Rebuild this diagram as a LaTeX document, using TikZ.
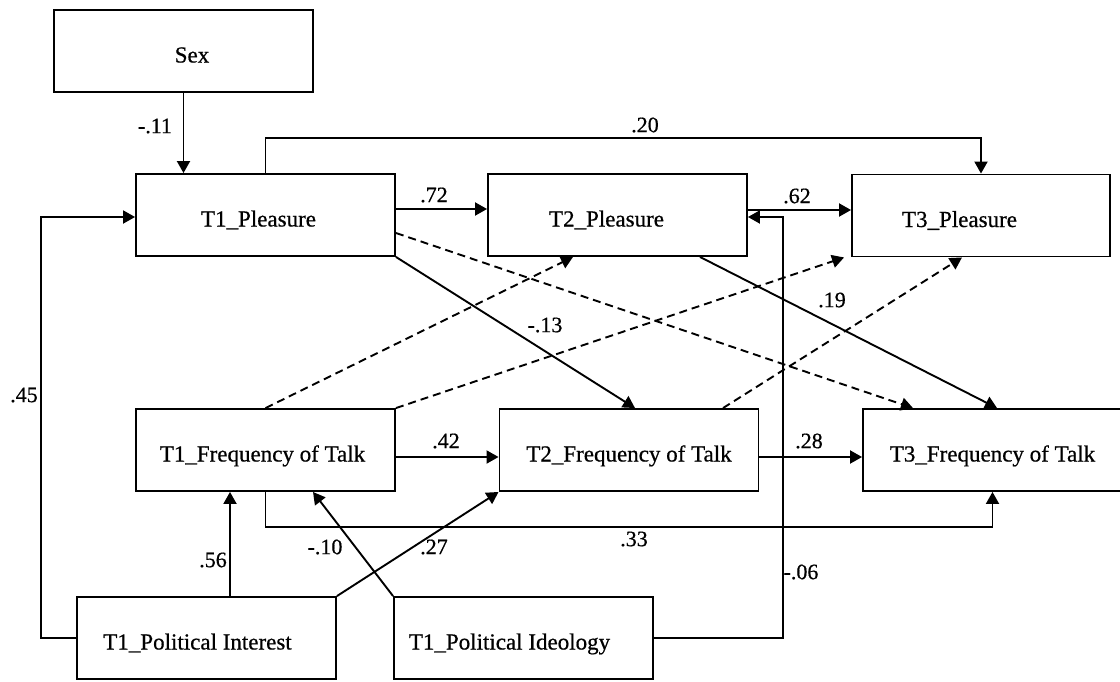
\documentclass[tikz,border=0pt]{standalone}
\usepackage{fontspec}
\setmainfont{Liberation Serif}[FakeBold=0.6]
\usetikzlibrary{arrows.meta}

\tikzset{
  box/.style={draw, line width=1.9pt, minimum width=259pt, minimum height=82pt,
    inner sep=0pt, text height=28pt, text depth=5pt,
    font=\fontsize{23}{27}\selectfont},
  coef/.style={inner sep=0pt, font=\fontsize{22}{26}\selectfont},
  link/.style={line width=1.9pt},
  arr/.style={link, -{Triangle[length=12pt,width=13pt]}},
  dasharr/.style={arr, dash pattern=on 8pt off 5pt}
}

\begin{document}
\begin{tikzpicture}[x=1pt, y=-1pt]
\useasboundingbox[fill=white] (0,0) rectangle (1120,681);

% variables
\node[box] (sex) at (183.5,51)  {\hspace*{17pt}Sex};
\node[box] (t1p) at (265.5,215) {T1\_Pleasure\hspace*{14pt}};
\node[box] (t2p) at (617.5,215) {T2\_Pleasure\hspace*{22pt}};
\node[box, minimum width=258pt] (t3p) at (981,215.5) {T3\_Pleasure\hspace*{43pt}};
\node[box] (t1f) at (265.5,450) {T1\_Frequency of Talk\hspace*{6pt}};
\node[box] (t2f) at (629,450)   {T2\_Frequency of Talk};
\node[box] (t3f) at (992.5,450) {T3\_Frequency of Talk};
\node[box] (pi)  at (206.5,638) {T1\_Political Interest\hspace*{18pt}};
\node[box] (pid) at (523.5,638) {T1\_Political Ideology\hspace*{28pt}};

% solid paths
\draw[arr] (sex.south) -- (sex.south |- t1p.north);
\draw[arr] (t1p.north) -- ([yshift=35pt]t1p.north) -| (t3p.north);
\draw[arr] ([yshift=6pt]t1p.east) -- ([yshift=6pt]t1p.east -| t2p.west);
\draw[arr] ([yshift=5pt]t2p.east) -- ([yshift=5pt]t2p.east -| t3p.west);
\draw[arr] (pi.west) -- ([xshift=-35pt]pi.west) |- ([yshift=-2pt]t1p.west);
\draw[arr] ([xshift=23.5pt]pi.north) -- ([xshift=23.5pt]pi.north |- t1f.south);
\draw[arr] (pi.north east) -- (t2f.south west);
\draw[arr] (pid.north west) -- ([xshift=47.5pt]t1f.south);
\draw[arr] (pid.east) -- ([xshift=129pt]pid.east) |- ([yshift=-2pt]t2p.east);
\draw[arr] ([yshift=-7pt]t1f.east) -- ([yshift=-7pt]t1f.east -| t2f.west);
\draw[arr] ([yshift=-7pt]t2f.east) -- ([yshift=-7pt]t2f.east -| t3f.west);
\draw[arr] (t1f.south) -- ([yshift=-35pt]t1f.south) -| (t3f.south);
\draw[arr] (t1p.south east) -- ([xshift=6pt]t2f.north);
\draw[arr] ([xshift=82.5pt]t2p.south) -- ([xshift=4.5pt]t3f.north);

% dashed paths
\draw[dasharr] ([yshift=-18pt]t1p.east) -- ([xshift=-79.5pt]t3f.north);
\draw[dasharr] (t1f.north) -- ([xshift=-44.5pt]t2p.south);
\draw[dasharr] (t1f.north east) -- ([xshift=-7pt]t3p.south west);
\draw[dasharr] ([xshift=94pt]t2f.north) -- ([xshift=-19pt]t3p.south);

% coefficients
\node[coef] (c1)  at (155,126) {-.11};
\node[coef] (c2)  at (645,125) {.20};
\node[coef] (c3)  at (434,195) {.72};
\node[coef] (c4)  at (797,196) {.62};
\node[coef] (c5)  at (545,325) {-.13};
\node[coef] (c6)  at (832,300) {.19};
\node[coef] (c7)  at (24,395)  {.45};
\node[coef] (c8)  at (446,441) {.42};
\node[coef] (c9)  at (809,441) {.28};
\node[coef] (c10) at (634,539) {.33};
\node[coef] (c11) at (213,560) {.56};
\node[coef] (c12) at (325,547) {-.10};
\node[coef] (c13) at (434,547) {.27};
\node[coef] (c14) at (801,572) {-.06};
\end{tikzpicture}
\end{document}
